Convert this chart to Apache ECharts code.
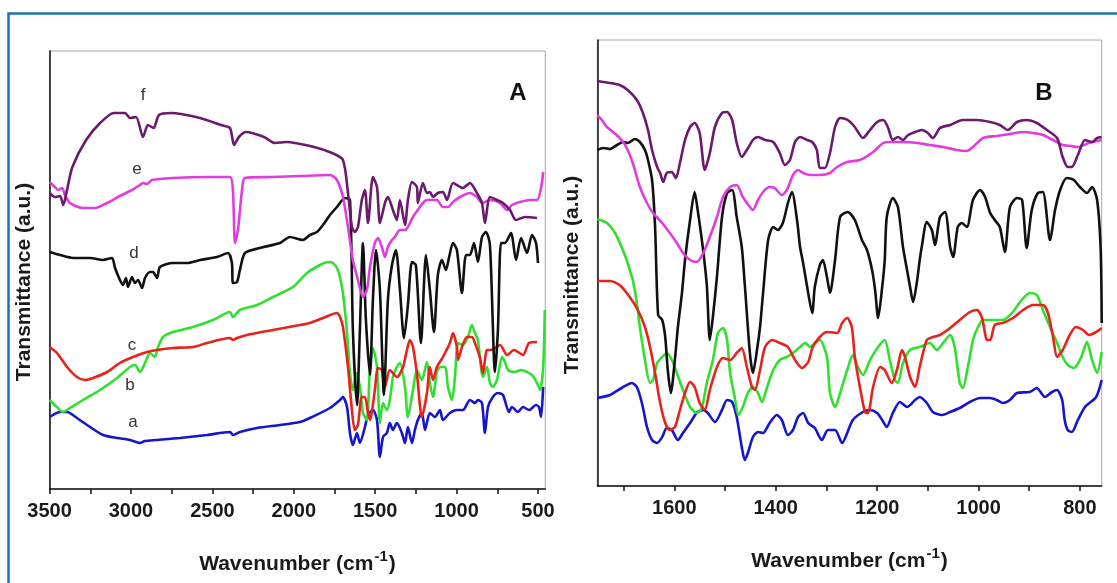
<!DOCTYPE html>
<html>
<head>
<meta charset="utf-8">
<script src="https://cdn.jsdelivr.net/npm/echarts@6/dist/echarts.min.js"></script>
<style>
html,body{margin:0;padding:0;background:#fff;}
#chart{width:1117px;height:583px;}
</style>
</head>
<body>
<div id="chart"></div>
<script>
// ---------- Panel A (3500-455 cm-1) : [wavenumber, transmittance a.u.] ----------
const A_a = [[3500,72],[3436,77],[3393,77],[3332,71],[3252,62],[3172,54],[3086,51],[3006,49],[2945,46],[2914,48],[2840,49],[2699,51],[2533,54],[2392,57],[2374,54],[2331,57],[2226,61],[2085,64],[1962,67],[1901,71],[1778,81],[1716,89],[1698,92],[1673,82],[1655,56],[1637,44],[1612,56],[1594,46],[1563,62],[1544,74],[1514,79],[1489,69],[1471,32],[1452,52],[1428,56],[1410,66],[1391,59],[1367,66],[1336,56],[1317,46],[1299,62],[1274,46],[1256,59],[1238,69],[1213,76],[1194,59],[1164,76],[1133,72],[1102,79],[1084,69],[1041,76],[998,79],[961,79],[918,89],[887,86],[869,89],[844,86],[826,56],[807,82],[777,92],[746,96],[715,94],[678,77],[660,82],[623,77],[592,82],[555,79],[512,84],[494,82],[481,72],[468,102]];
const A_b = [[3500,89],[3455,82],[3418,77],[3375,81],[3295,89],[3190,99],[3086,111],[3006,122],[2975,124],[2945,117],[2914,126],[2883,136],[2853,132],[2834,142],[2803,152],[2742,157],[2619,162],[2496,169],[2392,177],[2374,172],[2331,179],[2226,184],[2128,192],[2005,202],[1919,216],[1839,224],[1790,227],[1759,226],[1729,219],[1704,202],[1686,179],[1673,156],[1655,116],[1637,99],[1612,116],[1594,102],[1575,76],[1551,69],[1532,122],[1514,141],[1489,122],[1471,66],[1452,86],[1428,79],[1410,89],[1391,112],[1367,122],[1348,126],[1317,102],[1299,72],[1268,99],[1244,119],[1213,109],[1182,127],[1164,106],[1145,92],[1121,117],[1102,122],[1071,122],[1053,102],[1028,89],[1010,112],[991,146],[961,144],[930,152],[906,164],[887,156],[869,149],[838,112],[813,122],[795,106],[777,102],[752,109],[721,132],[703,127],[684,119],[641,117],[604,119],[537,114],[506,106],[487,99],[468,122],[458,179]];
const A_c = [[3500,142],[3455,136],[3393,122],[3332,112],[3283,109],[3233,111],[3147,117],[3068,126],[2988,132],[2902,137],[2840,139],[2742,141],[2619,142],[2533,146],[2392,151],[2374,149],[2349,151],[2288,154],[2128,159],[1962,164],[1901,166],[1821,171],[1735,176],[1716,172],[1698,162],[1667,122],[1643,79],[1625,59],[1606,64],[1582,92],[1563,92],[1544,76],[1532,69],[1502,99],[1483,121],[1459,119],[1440,102],[1410,119],[1367,112],[1329,122],[1305,139],[1287,149],[1268,142],[1244,116],[1213,72],[1182,96],[1164,122],[1145,109],[1121,122],[1084,132],[1041,146],[1022,156],[998,142],[991,129],[967,142],[936,152],[906,152],[887,146],[856,131],[838,116],[813,139],[789,139],[733,144],[690,134],[647,139],[592,134],[555,146],[506,147]];
const A_d = [[3500,237],[3436,234],[3356,231],[3252,231],[3172,229],[3117,231],[3098,221],[3068,209],[3049,204],[3031,211],[3018,202],[2994,212],[2976,206],[2957,209],[2932,201],[2914,211],[2883,217],[2865,217],[2840,211],[2822,222],[2742,226],[2656,226],[2576,229],[2472,232],[2404,236],[2380,226],[2374,206],[2349,207],[2331,219],[2300,236],[2208,241],[2085,246],[2024,252],[1944,249],[1901,254],[1858,257],[1821,264],[1778,274],[1735,282],[1686,291],[1655,289],[1637,159],[1612,84],[1594,159],[1575,246],[1557,169],[1532,114],[1514,189],[1495,239],[1471,199],[1446,94],[1422,189],[1397,224],[1373,239],[1348,199],[1323,151],[1299,184],[1274,227],[1250,224],[1219,146],[1188,234],[1164,199],[1139,157],[1115,214],[1090,229],[1065,219],[1047,231],[1022,246],[998,239],[967,196],[942,234],[918,234],[893,246],[869,227],[844,252],[820,257],[795,244],[764,117],[746,159],[727,246],[703,246],[666,256],[635,229],[604,251],[567,236],[537,254],[512,246],[500,226]];
const A_e = [[3500,307],[3467,302],[3448,299],[3424,301],[3405,294],[3375,286],[3295,281],[3221,281],[3147,286],[3068,293],[2994,299],[2945,304],[2926,306],[2902,305],[2871,309],[2742,311],[2533,312],[2392,312],[2374,299],[2361,246],[2343,259],[2318,299],[2300,311],[2128,312],[1962,313],[1778,314],[1735,309],[1698,292],[1667,262],[1637,229],[1606,209],[1575,192],[1551,199],[1532,222],[1502,246],[1483,251],[1459,242],[1440,232],[1422,242],[1397,249],[1379,252],[1348,259],[1317,259],[1299,262],[1268,272],[1238,279],[1207,286],[1182,289],[1121,289],[1084,282],[1053,282],[1022,287],[979,292],[918,296],[875,292],[844,286],[795,289],[733,286],[690,279],[660,284],[610,287],[549,289],[506,289],[481,301],[468,317]];
const A_f = [[3500,296],[3467,292],[3436,293],[3416,284],[3393,299],[3360,322],[3276,349],[3190,366],[3104,376],[3037,376],[3006,371],[2969,372],[2926,352],[2896,364],[2861,361],[2828,374],[2754,376],[2576,371],[2447,364],[2392,361],[2367,344],[2337,352],[2294,357],[2183,352],[2116,346],[2048,347],[1876,342],[1765,336],[1698,329],[1667,296],[1643,262],[1625,257],[1606,262],[1582,289],[1563,299],[1544,266],[1514,312],[1489,302],[1471,266],[1440,286],[1422,292],[1391,279],[1367,269],[1348,289],[1317,264],[1299,289],[1274,307],[1244,302],[1238,286],[1207,306],[1182,296],[1164,297],[1145,292],[1115,296],[1084,297],[1059,289],[1022,306],[961,301],[918,306],[875,296],[844,286],[826,266],[795,292],[752,289],[715,286],[672,279],[635,269],[580,272],[506,271]];

// ---------- Panel B (1752-757 cm-1) ----------
const B_a = [[1752,88],[1727,91],[1704,98],[1684,103],[1674,99],[1664,83],[1654,59],[1644,46],[1634,43],[1624,49],[1615,58],[1605,56],[1593,46],[1583,53],[1569,63],[1556,73],[1543,76],[1534,73],[1520,64],[1506,76],[1496,86],[1486,84],[1477,69],[1467,39],[1461,26],[1455,33],[1445,49],[1435,54],[1425,53],[1412,63],[1398,71],[1388,66],[1376,51],[1366,56],[1356,69],[1346,73],[1336,63],[1323,58],[1309,46],[1297,56],[1283,56],[1269,43],[1259,53],[1248,66],[1228,74],[1214,76],[1200,73],[1190,66],[1181,59],[1169,73],[1155,84],[1141,79],[1125,86],[1116,89],[1102,83],[1090,74],[1072,71],[1056,74],[1037,78],[1017,84],[997,88],[977,88],[964,86],[952,83],[938,86],[924,93],[899,94],[885,98],[869,89],[855,94],[845,96],[835,86],[830,66],[824,56],[816,54],[804,66],[790,79],[768,89],[757,106]];
const B_b = [[1752,267],[1733,263],[1717,253],[1704,239],[1694,226],[1688,216],[1682,206],[1674,183],[1668,159],[1658,126],[1648,103],[1642,106],[1634,123],[1624,129],[1615,133],[1605,126],[1595,113],[1583,96],[1569,79],[1556,73],[1546,78],[1536,103],[1524,126],[1514,153],[1504,158],[1496,146],[1490,113],[1480,86],[1474,71],[1465,79],[1455,93],[1445,99],[1435,93],[1427,84],[1417,99],[1405,116],[1392,126],[1378,129],[1366,133],[1352,139],[1342,143],[1332,139],[1323,143],[1313,146],[1299,129],[1293,93],[1283,79],[1273,93],[1259,116],[1248,131],[1238,119],[1228,111],[1214,126],[1198,139],[1185,146],[1175,126],[1165,106],[1159,103],[1149,123],[1135,136],[1116,139],[1096,143],[1082,136],[1070,143],[1056,151],[1047,139],[1037,103],[1031,98],[1021,119],[1011,146],[1001,159],[991,166],[977,166],[952,166],[934,173],[918,184],[899,193],[885,191],[873,176],[859,159],[845,143],[834,129],[824,121],[812,118],[798,128],[786,144],[776,126],[766,113],[757,134]];
const B_c = [[1752,205],[1727,205],[1708,201],[1688,189],[1672,176],[1658,159],[1648,139],[1638,113],[1628,83],[1618,63],[1609,56],[1599,59],[1589,76],[1579,93],[1569,104],[1560,99],[1550,83],[1540,76],[1530,96],[1516,119],[1504,128],[1490,126],[1477,133],[1467,138],[1457,119],[1447,99],[1441,96],[1431,116],[1421,139],[1407,146],[1392,143],[1376,139],[1362,126],[1348,118],[1336,124],[1327,139],[1313,149],[1299,154],[1279,153],[1269,163],[1259,168],[1250,159],[1244,129],[1234,99],[1224,74],[1218,73],[1208,99],[1194,119],[1185,116],[1171,103],[1161,116],[1151,136],[1145,129],[1135,109],[1125,99],[1116,119],[1102,146],[1090,149],[1076,151],[1056,158],[1037,166],[1017,174],[1003,176],[993,168],[983,146],[977,146],[968,161],[952,163],[932,168],[912,176],[893,181],[873,181],[863,173],[853,149],[845,129],[834,136],[820,151],[808,159],[794,156],[782,151],[768,154],[757,158]];
const B_d = [[1752,336],[1740,338],[1727,337],[1713,341],[1701,344],[1692,343],[1678,347],[1668,344],[1658,336],[1652,326],[1644,306],[1638,259],[1632,171],[1624,166],[1618,149],[1613,116],[1607,93],[1599,126],[1593,159],[1585,193],[1579,226],[1569,266],[1560,294],[1554,276],[1544,239],[1536,201],[1530,146],[1524,169],[1516,209],[1506,269],[1496,293],[1486,296],[1477,269],[1467,239],[1461,201],[1451,133],[1445,113],[1437,136],[1431,159],[1425,193],[1415,246],[1405,259],[1396,256],[1386,263],[1376,283],[1368,294],[1358,266],[1352,239],[1346,223],[1338,199],[1328,173],[1323,199],[1313,221],[1307,226],[1299,209],[1293,193],[1283,226],[1273,269],[1258,274],[1244,266],[1230,246],[1220,236],[1210,216],[1204,196],[1198,168],[1190,199],[1185,226],[1181,269],[1169,288],[1159,279],[1149,239],[1141,216],[1135,199],[1129,184],[1121,206],[1116,226],[1112,239],[1102,264],[1092,256],[1086,241],[1076,269],[1066,274],[1056,239],[1050,229],[1041,259],[1033,263],[1023,259],[1011,286],[997,296],[987,289],[977,273],[968,266],[958,259],[948,234],[938,279],[924,288],[914,286],[905,238],[895,276],[883,293],[873,294],[859,246],[849,276],[839,296],[826,308],[812,306],[800,299],[786,293],[776,299],[766,286],[759,236],[757,163]];
const B_e = [[1752,371],[1743,366],[1733,359],[1721,354],[1704,346],[1692,336],[1682,323],[1668,299],[1654,283],[1642,273],[1624,263],[1609,253],[1595,243],[1583,233],[1569,226],[1556,224],[1543,233],[1530,249],[1516,269],[1504,289],[1490,299],[1477,301],[1465,289],[1451,279],[1445,276],[1435,286],[1425,294],[1412,299],[1402,298],[1388,291],[1378,296],[1366,311],[1356,316],[1346,313],[1332,311],[1313,311],[1293,313],[1279,319],[1259,324],[1234,326],[1208,334],[1188,343],[1175,344],[1149,344],[1121,343],[1096,341],[1070,339],[1043,336],[1023,335],[1011,339],[991,348],[964,350],[938,352],[912,354],[893,353],[873,351],[853,346],[834,341],[818,340],[804,339],[782,343],[757,346]];
const B_f = [[1752,405],[1727,403],[1708,401],[1692,396],[1674,386],[1662,373],[1652,356],[1644,336],[1634,319],[1628,313],[1622,304],[1615,313],[1605,314],[1597,308],[1589,323],[1579,346],[1569,359],[1560,363],[1550,353],[1540,316],[1530,333],[1520,359],[1506,373],[1496,374],[1486,366],[1477,343],[1467,329],[1457,336],[1445,346],[1435,349],[1421,346],[1405,344],[1392,333],[1382,321],[1372,326],[1362,344],[1352,349],[1338,346],[1328,344],[1319,336],[1313,318],[1303,318],[1293,333],[1283,359],[1273,368],[1258,366],[1244,359],[1228,348],[1214,356],[1200,364],[1188,366],[1179,359],[1169,346],[1159,349],[1149,346],[1139,351],[1125,354],[1112,356],[1100,353],[1090,348],[1076,358],[1056,361],[1031,366],[1003,366],[977,364],[958,361],[942,356],[924,364],[905,366],[885,363],[865,356],[845,348],[834,329],[824,319],[816,319],[804,331],[790,346],[776,344],[766,348],[757,349]];

// ---------- ticks and labels ----------
const A_tickLabels = [3500, 3000, 2500, 2000, 1500, 1000, 500];
const A_ticks = [3500, 3250, 3000, 2750, 2500, 2250, 2000, 1750, 1500, 1250, 1000, 750, 500];
const B_tickLabels = [1600, 1400, 1200, 1000, 800];
const B_ticks = [1700, 1600, 1500, 1400, 1300, 1200, 1100, 1000, 900, 800];
const seriesNames = ['a', 'b', 'c', 'd', 'e', 'f'];
const seriesColors = ['#1515cf', '#2fe02f', '#e8231b', '#111111', '#e03ce0', '#6b1a6d'];
const panelTitles = ['A', 'B'];
const yTitle = 'Transmittance (a.u.)';

const FONT = '"Liberation Sans", Arial, sans-serif';

const chart = echarts.init(document.getElementById('chart'), null, {renderer: 'canvas'});

function xAxisFor(grid, min, max, ticks, labels) {
  return {
    gridIndex: grid, type: 'value', inverse: true, min: min, max: max,
    axisLine: {show: true, lineStyle: {color: '#111', width: 1.5}},
    axisTick: {show: true, customValues: ticks, length: 5, inside: false, lineStyle: {color: '#111', width: 1.5}},
    axisLabel: {show: true, customValues: labels, formatter: function (v) { return String(v); },
      fontSize: 20, fontWeight: 'bold', color: '#1a1a1a', margin: 12, fontFamily: FONT},
    splitLine: {show: false},
    name: '{t|Wavenumber (cm}{s|-1}{t|)}',
    nameLocation: 'middle', nameGap: 60,
    nameTextStyle: {
      rich: {
        t: {fontSize: 21, fontWeight: 'bold', color: '#1a1a1a', fontFamily: FONT},
        s: {fontSize: 15, fontWeight: 'bold', color: '#1a1a1a', fontFamily: FONT, padding: [0, 1, 16, 1]}
      }
    }
  };
}
function yAxisFor(grid, max) {
  return {
    gridIndex: grid, type: 'value', min: 0, max: max,
    axisLine: {show: true, lineStyle: {color: '#111', width: 1.5}},
    axisTick: {show: false}, axisLabel: {show: false}, splitLine: {show: false},
    name: yTitle, nameLocation: 'middle', nameGap: 15, nameRotate: 90,
    nameTextStyle: {fontSize: 21, fontWeight: 'bold', color: '#1a1a1a', fontFamily: FONT, padding: [0, 24, 0, 0]}
  };
}

const dataA = [A_a, A_b, A_c, A_d, A_e, A_f];
const dataB = [B_a, B_b, B_c, B_d, B_e, B_f];
const series = [];
[dataA, dataB].forEach(function (set, gi) {
  set.forEach(function (d, i) {
    series.push({
      name: seriesNames[i] + gi, type: 'line', xAxisIndex: gi, yAxisIndex: gi,
      data: d, showSymbol: false, smooth: 0.25, clip: true,
      lineStyle: {width: 2.6, color: seriesColors[i]}, z: 2 + i, silent: true
    });
  });
});

// curve labels in panel A
const curveLabelPos = [[133, 422], [130, 385], [132, 345], [134, 253], [137, 169], [143, 95]];
const graphics = [
  {type: 'rect', shape: {x: 8.5, y: 13.5, width: 1300, height: 800}, style: {fill: 'none', stroke: '#1f6fb8', lineWidth: 2.5}, z: 100}
];
seriesNames.forEach(function (n, i) {
  graphics.push({type: 'text', x: curveLabelPos[i][0], y: curveLabelPos[i][1],
    style: {text: n, fill: '#333', font: '17px ' + FONT, align: 'center', verticalAlign: 'middle'}, z: 100});
});
graphics.push({type: 'text', x: 518, y: 93, style: {text: panelTitles[0], fill: '#111', font: 'bold 24px ' + FONT, align: 'center', verticalAlign: 'middle'}, z: 100});
graphics.push({type: 'text', x: 1044, y: 93, style: {text: panelTitles[1], fill: '#111', font: 'bold 24px ' + FONT, align: 'center', verticalAlign: 'middle'}, z: 100});

chart.setOption({
  animation: false,
  backgroundColor: '#ffffff',
  grid: [
    {left: 49.6, top: 51, width: 495.7, height: 438, show: true, borderColor: '#a9a9a9', borderWidth: 1, outerBoundsMode: 'none', containLabel: false},
    {left: 597.3, top: 40, width: 504.4, height: 446, show: true, borderColor: '#a9a9a9', borderWidth: 1, outerBoundsMode: 'none', containLabel: false}
  ],
  xAxis: [xAxisFor(0, 455, 3500, A_ticks, A_tickLabels), xAxisFor(1, 757, 1752, B_ticks, B_tickLabels)],
  yAxis: [yAxisFor(0, 438), yAxisFor(1, 446)],
  series: series,
  graphic: graphics
});
</script>
</body>
</html>
